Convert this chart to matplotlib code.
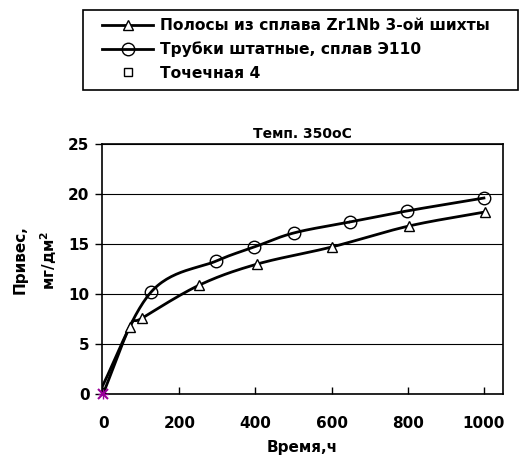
import numpy as np
import matplotlib
matplotlib.use("Agg")
import matplotlib.pyplot as plt
from matplotlib.lines import Line2D
from matplotlib.patches import Rectangle

plt.rcParams['font.family'] = ['DejaVu Sans']
plt.rcParams['font.weight'] = 'bold'

# data
t_strip = [0, 70, 103, 253, 405, 600, 803, 1002]
w_strip = [0, 6.7, 7.6, 10.9, 13.0, 14.7, 16.8, 18.2]
t_tube = [-12, 126, 297, 397, 500, 647, 797, 1000]
w_tube = [0, 10.2, 13.3, 14.7, 16.1, 17.2, 18.3, 19.6]
t_pt = [0]
w_pt = [0]

lbl_strip = 'Полосы из сплава Zr1Nb 3-ой шихты'
lbl_tube = 'Трубки штатные, сплав Э110'
lbl_pt = 'Точечная 4'


def smooth(x, y, n=30):
    # catmull-rom curve through the points, like excel's smoothed line
    x = np.asarray(x, float)
    y = np.asarray(y, float)
    px = np.concatenate([[2 * x[0] - x[1]], x, [2 * x[-1] - x[-2]]])
    py = np.concatenate([[2 * y[0] - y[1]], y, [2 * y[-1] - y[-2]]])
    xs, ys = [], []
    s = np.linspace(0, 1, n)
    for i in range(1, len(px) - 2):
        for arr, out in ((px, xs), (py, ys)):
            p0, p1, p2, p3 = arr[i - 1], arr[i], arr[i + 1], arr[i + 2]
            out.extend(0.5 * (2 * p1 + (-p0 + p2) * s
                              + (2 * p0 - 5 * p1 + 4 * p2 - p3) * s ** 2
                              + (-p0 + 3 * p1 - 3 * p2 + p3) * s ** 3))
    return xs, ys


fig = plt.figure(figsize=(5.19, 4.67), dpi=100)
ax = fig.add_axes([0.1965, 0.1563, 0.7726, 0.5353])

ax.set_axisbelow(True)
ax.yaxis.grid(True, color='black', lw=0.8)

xs, ys = smooth(t_strip, w_strip)
ax.plot(xs, ys, color='black', lw=2.0, zorder=3)
ax.plot(t_strip, w_strip, ls='none', marker='^', ms=7.5, mfc='white', mec='black', mew=1.0, zorder=4)
xs, ys = smooth(t_tube, w_tube)
ax.plot(xs, ys, color='black', lw=2.0, zorder=3)
ax.plot(t_tube, w_tube, ls='none', marker='o', ms=9, mfc='none', mec='black', mew=1.0, zorder=4)
ax.plot(t_pt, w_pt, ls='none', marker='x', ms=7, mec='#990099', mew=1.5, zorder=5, clip_on=False)
ax.plot(t_pt, w_pt, ls='none', marker='+', ms=7, mec='#990099', mew=1.0, zorder=5, clip_on=False)

ax.set_xlim(-3, 1050)
ax.set_ylim(0, 25)
ax.set_xticks([0, 200, 400, 600, 800, 1000])
ax.set_yticks([0, 5, 10, 15, 20, 25])
ax.tick_params(axis='x', direction='in', length=5, width=1, pad=16, labelsize=11)
ax.tick_params(axis='y', direction='out', length=5, width=1, pad=4, labelsize=11)
for sp in ax.spines.values():
    sp.set_linewidth(1.2)

ax.set_title('Темп. 350оС', fontsize=10, fontweight='bold', pad=4)
ax.set_xlabel('Время,ч', fontsize=11, fontweight='bold', labelpad=6)
fig.text(20 / 519, 1 - 260 / 467, 'Привес,', rotation=90, ha='center', va='center',
         fontsize=11, fontweight='bold')
fig.text(49 / 519, 1 - 260 / 467, 'мг/дм$^\\mathbf{2}$', rotation=90, ha='center', va='center',
         fontsize=11, fontweight='bold')

# legend frame drawn by hand so the entries can sit further in
fig.patches.append(Rectangle((83 / 519, 1 - 90 / 467), 435 / 519, 80 / 467,
                             transform=fig.transFigure, fill=False,
                             edgecolor='black', lw=1.2))
handles = [
    Line2D([], [], color='black', lw=2.0, marker='^', ms=7.5, mfc='white', mec='black', mew=1.0),
    Line2D([], [], color='black', lw=2.0, marker='o', ms=9, mfc='none', mec='black', mew=1.0),
    Line2D([], [], ls='none', marker='s', ms=6, mfc='white', mec='black', mew=1.0),
]
leg = fig.legend(handles, [lbl_strip, lbl_tube, lbl_pt],
                 loc='upper left', bbox_to_anchor=(102 / 519, 1 - 18 / 467),
                 frameon=False, handlelength=3.3, handletextpad=0.45,
                 labelspacing=0.55, borderpad=0, borderaxespad=0,
                 prop={'weight': 'bold', 'size': 11.2})

fig.savefig('out.png', dpi=100)
